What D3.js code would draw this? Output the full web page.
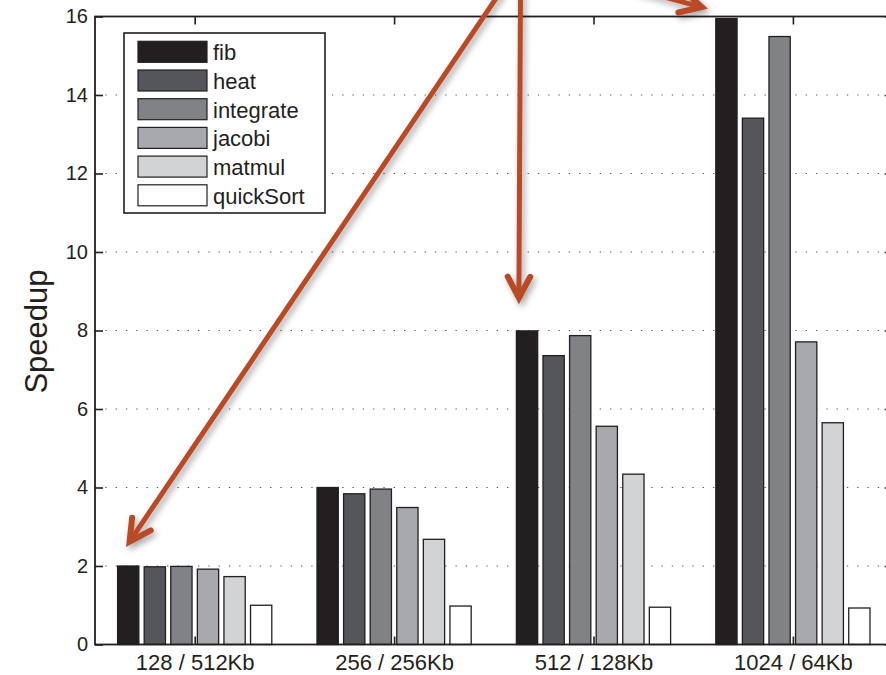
<!DOCTYPE html>
<html><head><meta charset="utf-8">
<script src="https://cdn.jsdelivr.net/npm/d3@7"></script>
<style>
html,body{margin:0;padding:0;background:#fff;}
svg{display:block;font-family:"Liberation Sans",Arial,Helvetica,sans-serif;}
</style></head>
<body>
<svg id="chart" width="886" height="675"></svg>
<script>
// ---- data ----
const categories = ["128 / 512Kb", "256 / 256Kb", "512 / 128Kb", "1024 / 64Kb"];
const series = ["fib", "heat", "integrate", "jacobi", "matmul", "quickSort"];
const fib       = [2.00, 4.00, 7.99, 15.95];
const heat      = [1.98, 3.84, 7.36, 13.41];
const integrate = [1.99, 3.96, 7.87, 15.49];
const jacobi    = [1.92, 3.49, 5.56, 7.71];
const matmul    = [1.73, 2.68, 4.34, 5.65];
const quickSort = [1.00, 0.98, 0.95, 0.93];
const yTicks = [0, 2, 4, 6, 8, 10, 12, 14, 16];
const seriesColors = ["#231f20", "#545659", "#808285", "#a7a9ac", "#d1d3d4", "#ffffff"];
// annotation arrows: target category/series, value at arrow tip, pixel offset from bar left
const arrowTargets = [
  {cat: "128 / 512Kb", s: "fib", v: 2.62, dx: 12, fromAngle: -56, len: 700},
  {cat: "512 / 128Kb", s: "fib", v: 8.83, dx: 2.5, fromAngle: -89.7, len: 340},
  {cat: "1024 / 64Kb", s: "fib", v: 16.24, dx: -14, fromAngle: -165, len: 120}
];

const values = {fib, heat, integrate, jacobi, matmul, quickSort};

// ---- layout ----
const svg = d3.select("#chart");
const mLeft = 95, mTop = 16.5, mBottom = 644.5, mRight = 892.6;

const x = d3.scaleBand().domain(categories).range([mLeft, mRight]).padding(0);
const bw = x.bandwidth();
const xs = d3.scaleBand().domain(series).range([0.1 * bw, 0.9 * bw]).paddingInner(0.2).paddingOuter(0.1);
const y = d3.scaleLinear().domain([0, 16]).range([mBottom, mTop]);

const FONT = '"Liberation Sans",Arial,Helvetica,sans-serif';

const defs = svg.append("defs");
const f = defs.append("filter").attr("id", "shadow").attr("x", "-20%").attr("y", "-20%").attr("width", "140%").attr("height", "140%");
f.append("feDropShadow").attr("dx", 2.5).attr("dy", 3.5).attr("stdDeviation", 3).attr("flood-color", "#000").attr("flood-opacity", 0.35);

// gridlines
svg.append("g").selectAll("line").data(yTicks.filter(t => t > 0 && t < 16)).join("line")
  .attr("x1", mLeft).attr("x2", mRight)
  .attr("y1", d => y(d)).attr("y2", d => y(d))
  .attr("stroke", "#555").attr("stroke-width", 1.2)
  .attr("stroke-dasharray", "1.3,9");

// bars
const rows = [];
categories.forEach((c, ci) => series.forEach((s, si) => rows.push({c, s, si, v: values[s][ci]})));
svg.append("g").selectAll("rect").data(rows).join("rect")
  .attr("x", d => x(d.c) + xs(d.s))
  .attr("width", xs.bandwidth())
  .attr("y", d => y(d.v))
  .attr("height", d => y(0) - y(d.v))
  .attr("fill", d => seriesColors[d.si])
  .attr("stroke", "#231f20").attr("stroke-width", 1.3);

// axes
function styleAxis(g, showText, fs) {
  g.select(".domain").remove();
  g.selectAll(".tick line").attr("stroke", "#231f20").attr("stroke-width", 1.6);
  g.selectAll("text").attr("fill", "#231f20").style("font-family", FONT).style("font-size", fs + "px");
  if (!showText) g.selectAll("text").remove();
}
const xc = d3.scalePoint().domain(categories).range([x(categories[0]) + bw / 2, x(categories[3]) + bw / 2]);
svg.append("g").attr("transform", `translate(${mLeft},0)`)
  .call(d3.axisLeft(y).tickValues(yTicks).tickSize(-8).tickPadding(7).tickFormat(d3.format("d")))
  .call(g => styleAxis(g, true, 20));
svg.append("g").attr("transform", `translate(${mRight},0)`)
  .call(d3.axisRight(y).tickValues(yTicks).tickSize(-8))
  .call(g => styleAxis(g, false, 20));
svg.append("g").attr("transform", `translate(0,${mBottom})`)
  .call(d3.axisBottom(xc).tickSize(-8).tickPadding(10))
  .call(g => styleAxis(g, true, 22));
svg.append("g").attr("transform", `translate(0,${mTop})`)
  .call(d3.axisTop(xc).tickSize(-8))
  .call(g => styleAxis(g, false, 22));

// frame
svg.append("rect").attr("x", mLeft).attr("y", mTop).attr("width", mRight - mLeft).attr("height", mBottom - mTop)
  .attr("fill", "none").attr("stroke", "#231f20").attr("stroke-width", 1.8);

// y label
svg.append("text").attr("transform", `translate(47,${(mTop + mBottom) / 2 + 1}) rotate(-90)`)
  .attr("text-anchor", "middle").attr("fill", "#231f20")
  .style("font-size", "31px").text("Speedup");

// legend
const lg = svg.append("g").attr("transform", "translate(124,33)");
lg.append("rect").attr("width", 201).attr("height", 180).attr("fill", "#fff").attr("stroke", "#231f20").attr("stroke-width", 1.6);
const item = lg.selectAll("g.item").data(series).join("g").attr("class", "item")
  .attr("transform", (d, i) => `translate(14,${8.3 + i * 28.7})`);
item.append("rect").attr("width", 69).attr("height", 21)
  .attr("fill", (d, i) => seriesColors[i]).attr("stroke", "#231f20").attr("stroke-width", 1.2);
item.append("text").attr("x", 75).attr("y", 19).attr("fill", "#231f20")
  .style("font-size", "22px").text(d => d);

// annotation arrows
const ag = svg.append("g").attr("filter", "url(#shadow)");
const ARROW = "#b84b27";
arrowTargets.forEach(a => {
  const tx = x(a.cat) + xs(a.s) + a.dx, ty = y(a.v);
  const ang = a.fromAngle * Math.PI / 180;
  const sx = tx + a.len * Math.cos(ang), sy = ty + a.len * Math.sin(ang);
  ag.append("line").attr("x1", sx).attr("y1", sy).attr("x2", tx).attr("y2", ty)
    .attr("stroke", ARROW).attr("stroke-width", 5).attr("stroke-linecap", "round");
  const hl = 24, ha = 28 * Math.PI / 180;
  const p1 = [tx + hl * Math.cos(ang + ha), ty + hl * Math.sin(ang + ha)];
  const p2 = [tx + hl * Math.cos(ang - ha), ty + hl * Math.sin(ang - ha)];
  ag.append("path").attr("d", `M${p1[0]},${p1[1]}L${tx},${ty}L${p2[0]},${p2[1]}`)
    .attr("fill", "none").attr("stroke", ARROW).attr("stroke-width", 6)
    .attr("stroke-linecap", "round").attr("stroke-linejoin", "miter");
});
</script>
</body></html>
